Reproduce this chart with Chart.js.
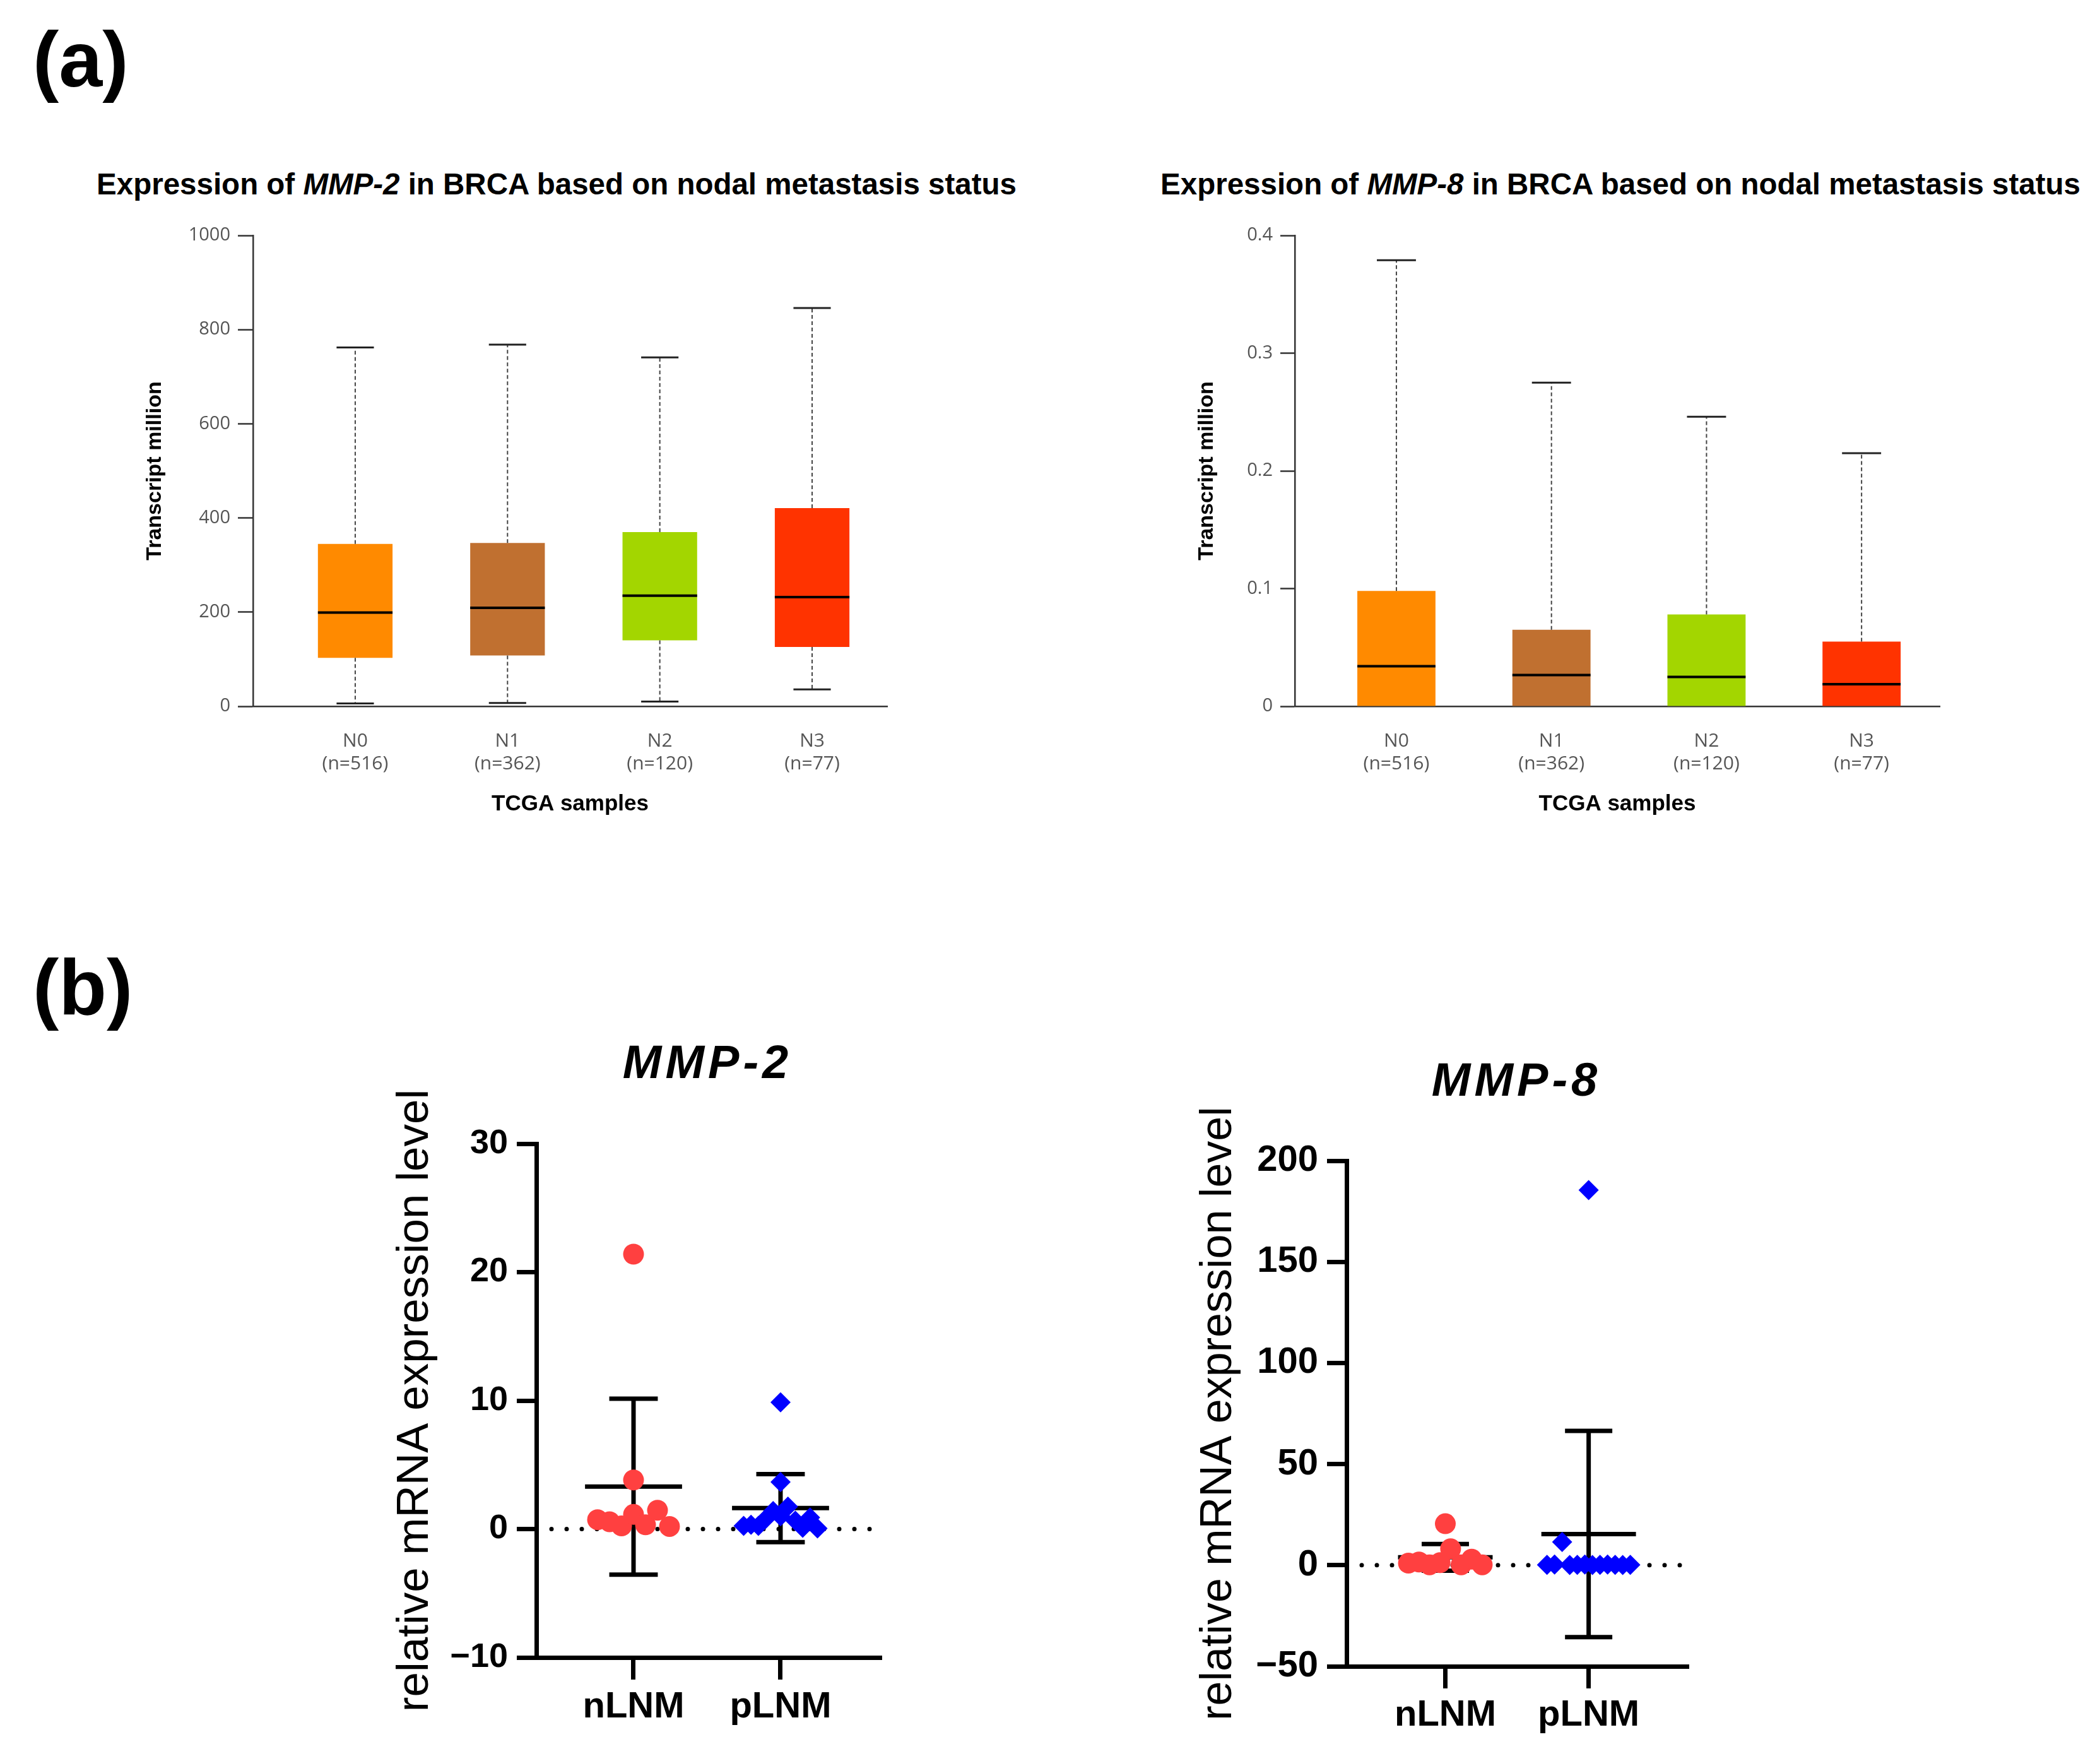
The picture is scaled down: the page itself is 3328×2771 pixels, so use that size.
<!DOCTYPE html>
<html><head><meta charset="utf-8">
<script src="https://cdn.jsdelivr.net/npm/chart.js@4.4.1/dist/chart.umd.min.js"></script>
<style>
html,body{margin:0;padding:0;background:#fff;}
#page{position:relative;width:3328px;height:2771px;overflow:hidden;background:#fff;font-family:"Liberation Sans",Arial,sans-serif;color:#000;}
.abs{position:absolute;}
.panel{font-weight:bold;font-size:124px;line-height:1;}
.toptitle{font-weight:bold;font-size:47.5px;line-height:1;white-space:nowrap;transform:translateX(-50%);}
.bottitle{font-weight:bold;font-style:italic;font-size:74px;letter-spacing:6px;line-height:1;white-space:nowrap;transform:translateX(-50%);}
canvas{display:block;}
</style></head>
<body><div id="page">
<div class="abs" style="left:560px;top:1690px"><canvas id="c3" width="900" height="1080"></canvas></div>
<div class="abs" style="left:1840px;top:1700px"><canvas id="c4" width="900" height="1070"></canvas></div>
<div class="abs" style="left:180px;top:330px"><canvas id="c1" width="1320" height="990"></canvas></div>
<div class="abs" style="left:1830px;top:330px"><canvas id="c2" width="1400" height="990"></canvas></div>
<div class="abs panel" style="left:52px;top:32px">(a)</div>
<div class="abs panel" style="left:52px;top:1502px">(b)</div>
<div class="abs toptitle" style="left:882px;top:268px">Expression of <i>MMP-2</i> in BRCA based on nodal metastasis status</div>
<div class="abs toptitle" style="left:2568px;top:268px">Expression of <i>MMP-8</i> in BRCA based on nodal metastasis status</div>
<div class="abs bottitle" style="left:1121px;top:1646px">MMP-2</div>
<div class="abs bottitle" style="left:2403px;top:1674px">MMP-8</div>
</div>
<script>
// ---------- DATA ----------
const tcgaCategories = ['N0', 'N1', 'N2', 'N3'];
const tcgaSampleSizes = [516, 362, 120, 77];

const mmp2TcgaMin    = [6, 7, 10, 36];
const mmp2TcgaQ1     = [103, 108, 140, 126];
const mmp2TcgaMedian = [199, 209, 235, 232];
const mmp2TcgaQ3     = [345, 347, 370, 421];
const mmp2TcgaMax    = [762, 768, 741, 846];

const mmp8TcgaMin    = [0, 0, 0, 0];
const mmp8TcgaQ1     = [0, 0, 0, 0];
const mmp8TcgaMedian = [0.034, 0.0266, 0.025, 0.0187];
const mmp8TcgaQ3     = [0.098, 0.065, 0.078, 0.055];
const mmp8TcgaMax    = [0.379, 0.275, 0.246, 0.215];

const mmp2YTicks = [0, 200, 400, 600, 800, 1000];
const mmp8YTicks = [0, 0.1, 0.2, 0.3, 0.4];

const groupLabels = ['nLNM', 'pLNM'];
const mmp2nLNM = [0.73, 0.57, 0.24, 1.14, 0.33, 1.46, 0.2, 3.82, 21.4];
const mmp2pLNM = [0.24, 0.33, 0.25, 0.8, 1.4, 1.0, 1.75, 0.65, 0.1, 0.9, 0.05, 3.66, 9.87];
const mmp8nLNM = [1.0, 1.6, 0.2, 1.25, 8.1, 0.2, 3.0, 0.2, 20.5];
const mmp8pLNM = [0.2, 0.3, 11.5, 0.1, 0.2, 0.3, 0.1, 0.2, 0.3, 0.2, 0.1, 0.2, 185.5];
const mmp2Mean = [3.3, 1.63];
const mmp2SD   = [6.85, 2.65];
const mmp8Mean = [3.9, 15.4];
const mmp8SD   = [6.6, 51.0];
const mmp2QTicks = [-10, 0, 10, 20, 30];
const mmp8QTicks = [-50, 0, 50, 100, 150, 200];

const boxColors = ['#FF8A00', '#C07030', '#A3D600', '#FF3300'];

// ---------- HELPERS ----------
function strokeLine(ctx, x1, y1, x2, y2) { ctx.beginPath(); ctx.moveTo(x1, y1); ctx.lineTo(x2, y2); ctx.stroke(); }

function boxWhiskerPlugin(mins, medians, maxs, q1, q3) {
  return {
    id: 'boxWhisker',
    afterDatasetsDraw(chart) {
      const ctx = chart.ctx, xs = chart.scales.x, ys = chart.scales.y;
      const bars = chart.getDatasetMeta(0).data;
      ctx.save();
      bars.forEach((bar, i) => {
        const x = xs.getPixelForValue(i), w = bar.width, cap = w / 4;
        const yMax = ys.getPixelForValue(maxs[i]), yMin = ys.getPixelForValue(mins[i]);
        ctx.strokeStyle = '#444'; ctx.lineWidth = 2; ctx.setLineDash([6, 4]);
        strokeLine(ctx, x, ys.getPixelForValue(q3[i]), x, yMax);
        if (q1[i] > mins[i]) strokeLine(ctx, x, ys.getPixelForValue(q1[i]), x, yMin);
        ctx.setLineDash([]); ctx.strokeStyle = '#222'; ctx.lineWidth = 3;
        strokeLine(ctx, x - cap, yMax, x + cap, yMax);
        if (q1[i] > mins[i]) strokeLine(ctx, x - cap, yMin, x + cap, yMin);
        ctx.strokeStyle = '#000'; ctx.lineWidth = 4;
        const ym = ys.getPixelForValue(medians[i]);
        strokeLine(ctx, x - w / 2, ym, x + w / 2, ym);
      });
      ctx.restore();
    }
  };
}

function boxChart(id, opt) {
  const data = tcgaCategories.map((c, i) => ({ x: i, y: [opt.q1[i], opt.q3[i]] }));
  return new Chart(document.getElementById(id), {
    type: 'bar',
    data: { datasets: [{ data, backgroundColor: boxColors, borderWidth: 0, barPercentage: opt.barPct, categoryPercentage: 1 }] },
    options: {
      responsive: false, devicePixelRatio: 1, animation: false,
      layout: { padding: { top: opt.padTop, right: opt.padRight, left: 0, bottom: 0 } },
      plugins: { legend: { display: false }, tooltip: { enabled: false } },
      scales: {
        x: {
          type: 'linear', offset: false, min: opt.xMin, max: opt.xMax,
          afterBuildTicks: s => { s.ticks = tcgaCategories.map((c, i) => ({ value: i })); },
          afterFit: s => { s.height = opt.xHeight; },
          grid: { display: false, offset: false },
          border: { display: true, color: '#333', width: 2.5 },
          ticks: {
            maxRotation: 0, autoSkip: false, padding: 29, color: '#555',
            font: { family: '"Open Sans", "Liberation Sans", sans-serif', size: 30, lineHeight: 1.2 },
            callback: v => [tcgaCategories[v], '(n=' + tcgaSampleSizes[v] + ')']
          },
          title: { display: true, text: 'TCGA samples', color: '#000', padding: { top: 0, bottom: 25 },
            font: { family: '"Liberation Sans", Arial, sans-serif', weight: 'bold', size: 35, lineHeight: 1.2 } }
        },
        y: {
          min: opt.yTicks[0], max: opt.yTicks[opt.yTicks.length - 1],
          afterBuildTicks: s => { s.ticks = opt.yTicks.map(v => ({ value: v })); },
          afterFit: s => { s.width = opt.yWidth; },
          grid: { display: true, drawOnChartArea: false, drawTicks: true, tickLength: opt.tickLen, tickWidth: 2.5, tickColor: '#333' },
          border: { display: true, color: '#333', width: 2.5 },
          ticks: { padding: 12, color: '#555', font: { family: '"Open Sans", "Liberation Sans", sans-serif', size: 29 },
            callback: v => String(+v.toFixed(2)) },
          title: { display: true, text: 'Transcript million', color: '#000', padding: { top: opt.yTitlePad, bottom: 0 },
            font: { family: '"Liberation Sans", Arial, sans-serif', weight: 'bold', size: 34, lineHeight: 1.2 } }
        }
      }
    },
    plugins: [boxWhiskerPlugin(opt.min, opt.median, opt.max, opt.q1, opt.q3)]
  });
}

function statsPlugin(means, sds) {
  return {
    id: 'stats',
    beforeDatasetsDraw(chart) {
      const ctx = chart.ctx, xs = chart.scales.x, ys = chart.scales.y, a = chart.chartArea;
      ctx.save();
      const y0 = ys.getPixelForValue(0);
      ctx.strokeStyle = '#000'; ctx.lineWidth = 7; ctx.lineCap = 'round'; ctx.setLineDash([0, 24]);
      strokeLine(ctx, a.left + 24, y0, a.right - 4, y0);
      ctx.setLineDash([]); ctx.lineCap = 'butt';
      const unit = xs.getPixelForValue(1) - xs.getPixelForValue(0);
      means.forEach((m, i) => {
        const x = xs.getPixelForValue(i);
        const yM = ys.getPixelForValue(m), yU = ys.getPixelForValue(m + sds[i]), yL = ys.getPixelForValue(m - sds[i]);
        const meanHalf = unit * 0.33, capHalf = unit * 0.165;
        strokeLine(ctx, x, yU, x, yL);
        strokeLine(ctx, x - meanHalf, yM, x + meanHalf, yM);
        strokeLine(ctx, x - capHalf, yU, x + capHalf, yU);
        strokeLine(ctx, x - capHalf, yL, x + capHalf, yL);
      });
      ctx.restore();
    }
  };
}

function swarm(values, center, xs, ys, stepPx, rowPx) {
  const pts = values.map((v, i) => ({ v, i, py: ys.getPixelForValue(v) }));
  const sorted = [...pts].sort((p, q) => p.v - q.v);
  const rows = []; let cur = null;
  sorted.forEach(p => {
    if (!cur || Math.abs(cur.start - p.py) >= rowPx) { cur = { start: p.py, items: [] }; rows.push(cur); }
    cur.items.push(p);
  });
  const unit = xs.getPixelForValue(1) - xs.getPixelForValue(0);
  const out = new Array(values.length);
  rows.forEach(r => {
    r.items.sort((p, q) => p.i - q.i);
    const n = r.items.length;
    r.items.forEach((p, k) => { out[p.i] = { x: center + ((k - (n - 1) / 2) * stepPx) / unit, y: p.v }; });
  });
  return out;
}

function qpcrChart(id, opt) {
  const chart = new Chart(document.getElementById(id), {
    type: 'scatter',
    data: { datasets: [
      { label: groupLabels[0], data: [], pointStyle: 'circle', pointRadius: 16.5, pointHoverRadius: 16.5, backgroundColor: '#FF4040', borderColor: '#FF4040', borderWidth: 0 },
      { label: groupLabels[1], data: [], pointStyle: 'rectRot', pointRadius: 16, pointHoverRadius: 16, backgroundColor: '#0000FF', borderColor: '#0000FF', borderWidth: 0 }
    ] },
    options: {
      responsive: false, devicePixelRatio: 1, animation: false, clip: false,
      layout: { padding: { top: opt.padTop, right: opt.padRight, left: 0, bottom: 0 } },
      plugins: { legend: { display: false }, tooltip: { enabled: false } },
      scales: {
        x: {
          type: 'linear', min: opt.xMin, max: opt.xMax,
          afterBuildTicks: s => { s.ticks = groupLabels.map((g, i) => ({ value: i })); },
          afterFit: s => { s.height = opt.xHeight; },
          grid: { display: true, drawOnChartArea: false, drawTicks: true, tickLength: 35, tickWidth: 7, tickColor: '#000', color: '#000', lineWidth: 7 },
          border: { display: true, color: '#000', width: 7 },
          ticks: { maxRotation: 0, autoSkip: false, padding: opt.xLabelPad, color: '#000',
            font: { family: '"Liberation Sans", Arial, sans-serif', weight: 'bold', size: 58, lineHeight: 1.2 },
            callback: v => groupLabels[v] }
        },
        y: {
          min: opt.yTicks[0], max: opt.yTicks[opt.yTicks.length - 1],
          afterBuildTicks: s => { s.ticks = opt.yTicks.map(v => ({ value: v })); },
          afterFit: s => { s.width = opt.yWidth; },
          grid: { display: true, drawOnChartArea: false, drawTicks: true, tickLength: 31, tickWidth: 7, tickColor: '#000', color: '#000', lineWidth: 7 },
          border: { display: true, color: '#000', width: 7 },
          ticks: { padding: 14, color: '#000', font: { family: '"Liberation Sans", Arial, sans-serif', weight: 'bold', size: opt.yTickSize },
            callback: v => (v < 0 ? '\u2212' + Math.abs(v) : String(v)) },
          title: { display: true, text: 'relative mRNA expression level', color: '#000', padding: { top: opt.yTitlePad, bottom: 0 },
            font: { family: '"Liberation Sans", Arial, sans-serif', size: opt.yTitleSize, lineHeight: 1.2 } }
        }
      }
    },
    plugins: [statsPlugin(opt.means, opt.sds)]
  });
  const xs = chart.scales.x, ys = chart.scales.y;
  chart.data.datasets[0].data = swarm(opt.nValues, 0, xs, ys, opt.circleStep, 40);
  chart.data.datasets[1].data = swarm(opt.pValues, 1, xs, ys, opt.diamondStep, 40);
  chart.update('none');
  return chart;
}

// ---------- CHARTS ----------
boxChart('c1', { min: mmp2TcgaMin, q1: mmp2TcgaQ1, median: mmp2TcgaMedian, q3: mmp2TcgaQ3, max: mmp2TcgaMax,
  yTicks: mmp2YTicks, xMin: -0.671, xMax: 3.493, barPct: 0.49,
  padTop: 43, padRight: 94, yWidth: 221, xHeight: 201, yTitlePad: 45, tickLen: 24 });
boxChart('c2', { min: mmp8TcgaMin, q1: mmp8TcgaQ1, median: mmp8TcgaMedian, q3: mmp8TcgaQ3, max: mmp8TcgaMax,
  yTicks: mmp8YTicks, xMin: -0.655, xMax: 3.504, barPct: 0.504,
  padTop: 43, padRight: 156, yWidth: 222, xHeight: 201, yTitlePad: 62, tickLen: 23 });
qpcrChart('c3', { nValues: mmp2nLNM, pValues: mmp2pLNM, means: mmp2Mean, sds: mmp2SD, yTicks: mmp2QTicks,
  xMin: -0.661, xMax: 1.674, padTop: 122, padRight: 66, yWidth: 290, xHeight: 144, xLabelPad: 9, yTitlePad: 56,
  yTickSize: 54, yTitleSize: 71, circleStep: 19, diamondStep: 11.7 });
qpcrChart('c4', { nValues: mmp8nLNM, pValues: mmp8pLNM, means: mmp8Mean, sds: mmp8SD, yTicks: mmp8QTicks,
  xMin: -0.689, xMax: 1.684, padTop: 139, padRight: 67, yWidth: 294, xHeight: 130, xLabelPad: 8, yTitlePad: 50,
  yTickSize: 58, yTitleSize: 70, circleStep: 16.7, diamondStep: 12 });
</script>
</body></html>
